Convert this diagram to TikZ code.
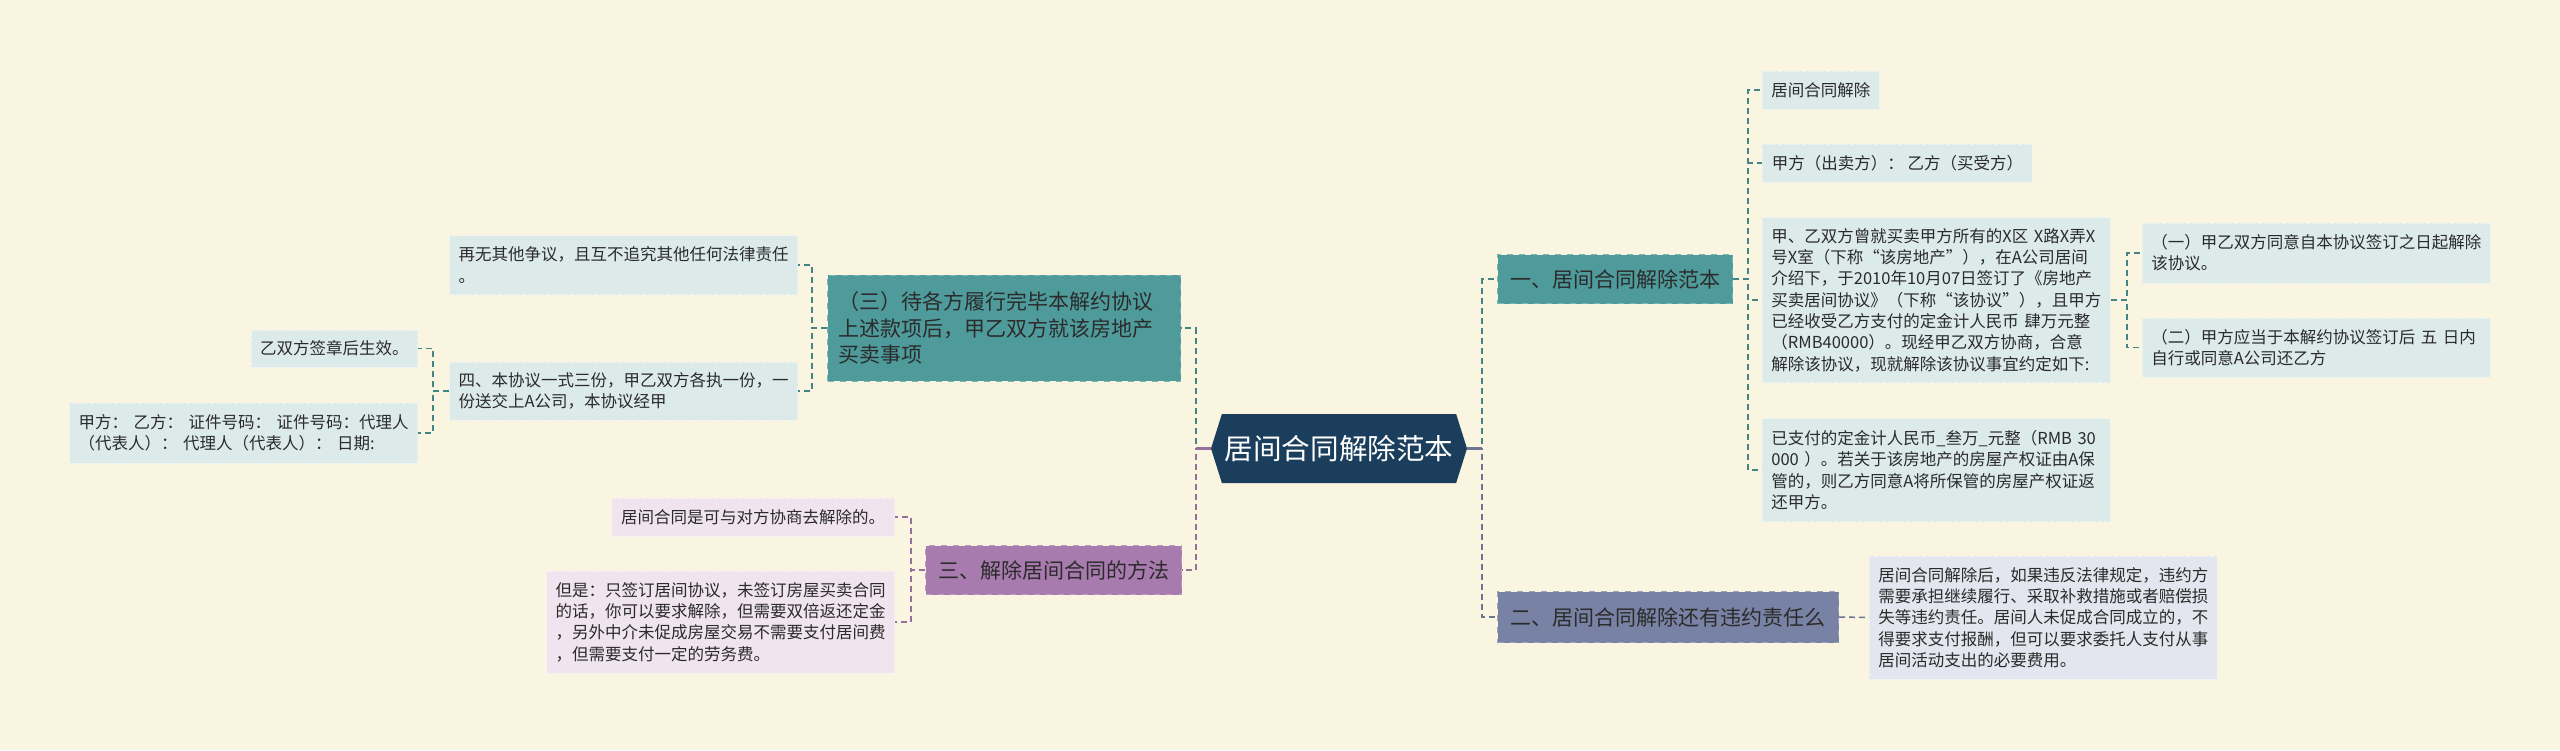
\documentclass[tikz,border=0pt]{standalone}
\usepackage{fontspec}
\setmainfont{Noto Sans CJK SC}
\usetikzlibrary{shapes.symbols}
\definecolor{cPaper}{HTML}{FAF5E1}
\definecolor{cRoot}{HTML}{1A3E5C}
\definecolor{cTeal}{HTML}{4F9B9B}
\definecolor{cSlate}{HTML}{7882A4}
\definecolor{cPurple}{HTML}{A87BAE}
\definecolor{cLeafT}{HTML}{DCEBEA}
\definecolor{cLeafS}{HTML}{E3E6EE}
\definecolor{cLeafP}{HTML}{F0E4EF}
\definecolor{cText}{HTML}{2B2B2B}

\begin{document}
\begin{tikzpicture}[
  x=0.5pt, y=-0.5pt,
  root/.style={signal, signal to=west and east, signal pointer angle=145,
               fill=cRoot, text=white, inner sep=0pt,
               font=\fontsize{14.3pt}{17pt}\selectfont,
               minimum width=128pt, minimum height=34.5pt},
  topic/.style={fill=#1, draw=#1!75!white, dashed, line width=0.5pt,
                text=cText, inner xsep=5.5pt, inner ysep=0pt, align=left,
                font=\fontsize{10.5pt}{13.3pt}\selectfont},
  leaf/.style={fill=#1, draw=#1!55!white, dash pattern=on 2pt off 1pt,
               line width=0.4pt, text=cText, inner xsep=4.5pt, inner ysep=0pt,
               align=left, font=\fontsize{8.25pt}{10.65pt}\selectfont},
  para/.style={text width=165pt},
  link/.style={draw=#1, dash pattern=on 3pt off 2pt, line width=0.75pt},
  trunk/.style={draw=#1, dash pattern=on 3pt off 2pt, line width=1pt},
]

% ---- Paper ---------------------------------------------------------------
\fill[cPaper] (0,0) rectangle (2560,750);

% ---- Root ----------------------------------------------------------------
\node[root] (root) at (1339,448.5) {居间合同解除范本};

% ---- Main topics ---------------------------------------------------------
\node[topic=cTeal, anchor=west, minimum width=117.5pt, minimum height=24.5pt]
  (t1) at (1497,279) {一、居间合同解除范本};
\node[topic=cSlate, anchor=west, minimum width=170.5pt, minimum height=25.5pt]
  (t2) at (1497,617) {二、居间合同解除还有违约责任么};
\node[topic=cTeal, anchor=east, text width=165.5pt, minimum height=53pt]
  (t3) at (1181,328)
  {（三）待各方履行完毕本解约协议\\
   上述款项后，甲乙双方就该房地产\\
   买卖事项};
\node[topic=cPurple, anchor=west, minimum width=128pt, minimum height=24.5pt]
  (t4) at (925,570) {三、解除居间合同的方法};

% ---- Right side details -------------------------------------------------
\node[leaf=cLeafT, anchor=west, minimum width=58.5pt, minimum height=19pt]
  (r1) at (1762,90) {居间合同解除};
\node[leaf=cLeafT, anchor=west, minimum width=135pt, minimum height=19pt]
  (r2) at (1762,163) {甲方（出卖方）： 乙方（买受方）};
\node[leaf=cLeafT, para, anchor=west, minimum height=82.5pt]
  (r3) at (1762,300)
  {甲、乙双方曾就买卖甲方所有的X区 X路X弄X\\
   号X室（下称“该房地产”），在A公司居间\\
   介绍下，于2010年10月07日签订了《房地产\\
   买卖居间协议》（下称“该协议”），且甲方\\
   已经收受乙方支付的定金计人民币 肆万元整\\
   （RMB40000）。现经甲乙双方协商，合意\\
   解除该协议，现就解除该协议事宜约定如下:};
\node[leaf=cLeafT, para, anchor=west, minimum height=51.5pt]
  (r4) at (1762,470)
  {已支付的定金计人民币\_叁万\_元整（RMB 30\\
   000 ）。若关于该房地产的房屋产权证由A保\\
   管的，则乙方同意A将所保管的房屋产权证返\\
   还甲方。};
\node[leaf=cLeafT, para, anchor=west, minimum height=30pt]
  (r31) at (2142,253)
  {（一）甲乙双方同意自本协议签订之日起解除\\
   该协议。};
\node[leaf=cLeafT, para, anchor=west, minimum height=29.5pt]
  (r32) at (2142,347.5)
  {（二）甲方应当于本解约协议签订后 五 日内\\
   自行或同意A公司还乙方};
\node[leaf=cLeafS, para, anchor=west, minimum height=61.5pt]
  (b1) at (1869,617.5)
  {居间合同解除后，如果违反法律规定，违约方\\
   需要承担继续履行、采取补救措施或者赔偿损\\
   失等违约责任。居间人未促成合同成立的，不\\
   得要求支付报酬，但可以要求委托人支付从事\\
   居间活动支出的必要费用。};

% ---- Left side details --------------------------------------------------
\node[leaf=cLeafT, para, anchor=east, minimum height=29.5pt]
  (l1) at (798,265)
  {再无其他争议，且互不追究其他任何法律责任\\
   。};
\node[leaf=cLeafT, para, anchor=east, minimum height=29pt]
  (l2) at (798,391)
  {四、本协议一式三份，甲乙双方各执一份，一\\
   份送交上A公司，本协议经甲};
\node[leaf=cLeafT, anchor=east, minimum width=82.5pt, minimum height=18.5pt]
  (l21) at (418,348.5) {乙双方签章后生效。};
\node[leaf=cLeafT, para, anchor=east, minimum height=30pt]
  (l22) at (418,433)
  {甲方： 乙方： 证件号码： 证件号码：代理人\\
   （代表人）： 代理人（代表人）： 日期:};
\node[leaf=cLeafP, anchor=east, minimum width=141.5pt, minimum height=19pt]
  (m1) at (895,517) {居间合同是可与对方协商去解除的。};
\node[leaf=cLeafP, para, anchor=east, minimum height=51pt]
  (m2) at (895,622)
  {但是：只签订居间协议，未签订房屋买卖合同\\
   的话，你可以要求解除，但需要双倍返还定金\\
   ，另外中介未促成房屋交易不需要支付居间费\\
   ，但需要支付一定的劳务费。};

% ---- Connectors ----------------------------------------------------------
\draw[trunk=cTeal!85!black] (root.east) -- ++(15,0) |- (t1.west);
\draw[trunk=cSlate!90!black] (root.east) -- ++(15,0) |- (t2.west);
\draw[trunk=cTeal!85!black] (root.west) -- ++(-15,0) |- (t3.east);
\draw[trunk=cPurple!90!black] (root.west) -- ++(-15,0) |- (t4.east);
\draw[draw=cSlate!90!black, line width=1.2pt] (root.east) -- ++(15,0);
\draw[draw=cPurple!90!black, line width=1.2pt] (root.west) -- ++(-15,0);

\foreach \c in {r1,r2,r3,r4} {
  \draw[link=cTeal!85!black] (t1.east) -- ++(15,0) |- (\c.west);
}
\foreach \c in {r31,r32} {
  \draw[link=cTeal!85!black] (r3.east) -- ++(16,0) |- (\c.west);
}
\draw[link=cSlate!90!black] (t2.east) -- (b1.west);
\foreach \c in {l1,l2} {
  \draw[link=cTeal!85!black] (t3.west) -- ++(-15,0) |- (\c.east);
}
\foreach \c in {l21,l22} {
  \draw[link=cTeal!85!black] (l2.west) -- ++(-16,0) |- (\c.east);
}
\foreach \c in {m1,m2} {
  \draw[link=cPurple!90!black] (t4.west) -- ++(-14,0) |- (\c.east);
}

\end{tikzpicture}
\end{document}
